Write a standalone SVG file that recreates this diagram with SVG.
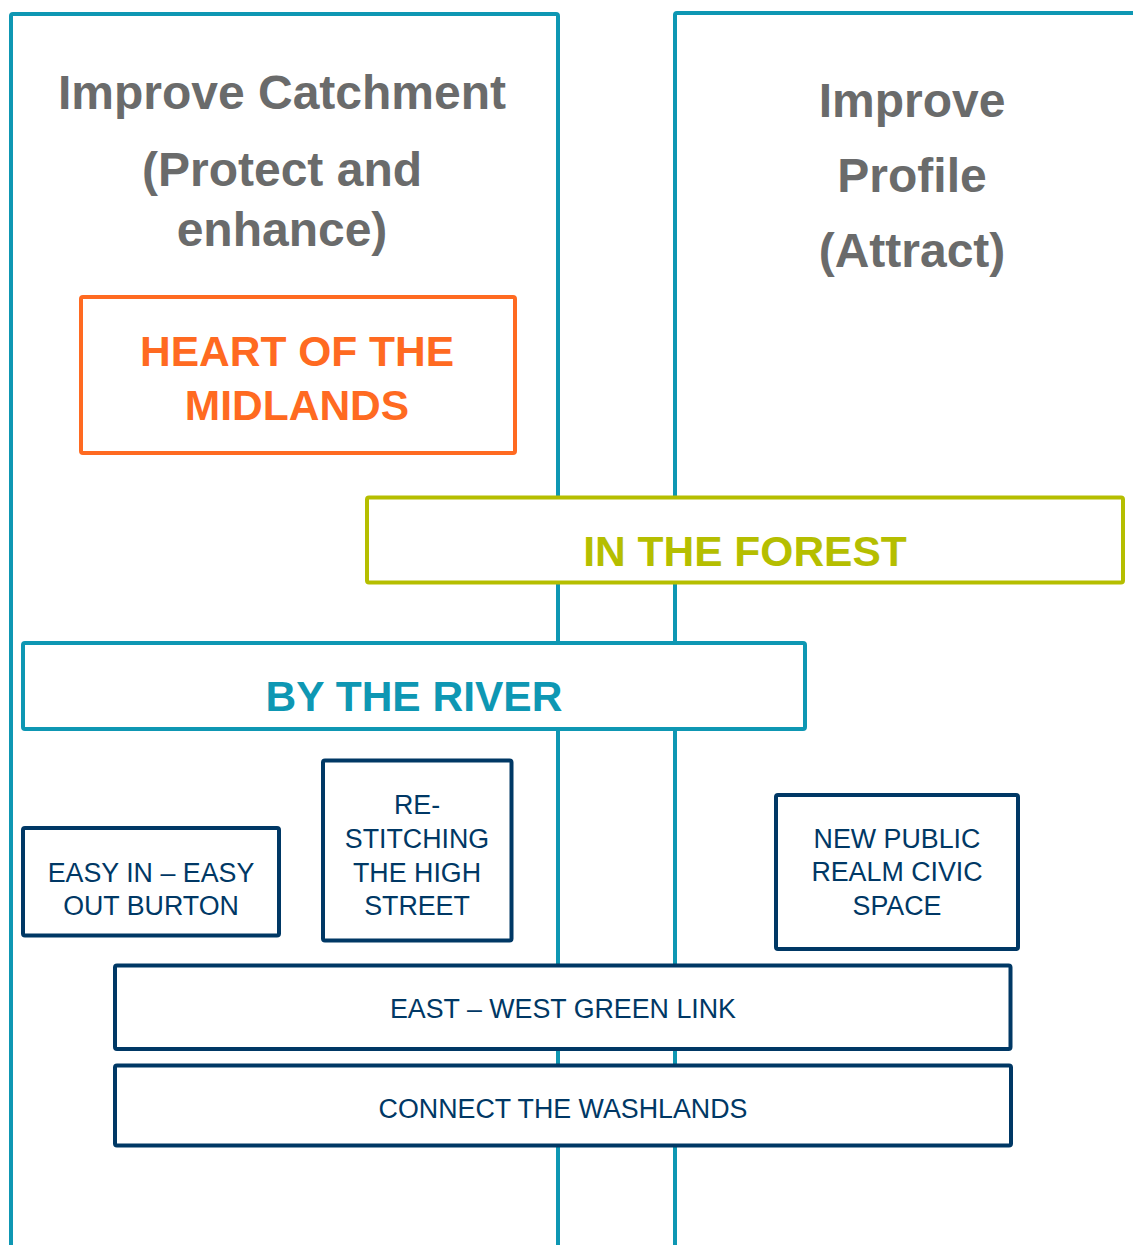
<svg xmlns="http://www.w3.org/2000/svg" width="1133" height="1245" viewBox="0 0 1133 1245">
<style>
.panel{fill:none;stroke:#0E97B3;stroke-width:4}
.box{fill:#fff;stroke-width:4}
.navy{stroke:#003865}
.head{font-family:"Liberation Sans",Arial,sans-serif;font-weight:bold;font-size:48px;fill:#6A6B6B;text-anchor:middle}
.big{font-family:"Liberation Sans",Arial,sans-serif;font-weight:bold;font-size:42.5px;text-anchor:middle}
.small{font-family:"Liberation Sans",Arial,sans-serif;font-size:26.8px;fill:#003865;text-anchor:middle}
</style>
<rect width="1133" height="1245" fill="#fff"/>
<g id="panel-catchment">
<rect class="panel" x="11" y="14" width="547" height="1300" rx="2"/>
<text class="head" x="282" y="109">Improve Catchment</text>
<text class="head" x="282" y="186">(Protect and</text>
<text class="head" x="282" y="246">enhance)</text>
</g>
<g id="panel-profile">
<rect class="panel" x="675" y="13" width="520" height="1300" rx="2"/>
<text class="head" x="912" y="117">Improve</text>
<text class="head" x="912" y="192">Profile</text>
<text class="head" x="912" y="267">(Attract)</text>
</g>
<g id="connectors"></g>
<g id="heart">
<rect class="box" x="81" y="297" width="434" height="156" rx="2" stroke="#FF6A21"/>
<text class="big" x="297" y="366" fill="#FF6A21">HEART OF THE</text>
<text class="big" x="297" y="420" fill="#FF6A21">MIDLANDS</text>
</g>
<g id="forest">
<rect class="box" x="367" y="497.5" width="756" height="85" rx="2" stroke="#B5BE00"/>
<text class="big" x="745" y="566" fill="#B5BE00">IN THE FOREST</text>
</g>
<g id="river">
<rect class="box" x="23" y="643" width="782" height="86" rx="2" stroke="#0E97B3"/>
<text class="big" x="414" y="711" fill="#0E97B3">BY THE RIVER</text>
</g>
<g id="easy">
<rect class="box navy" x="23" y="828" width="256" height="107.5" rx="2"/>
<text class="small" x="151" y="882">EASY IN – EASY</text>
<text class="small" x="151" y="915">OUT BURTON</text>
</g>
<g id="restitch">
<rect class="box navy" x="323" y="760.5" width="188.5" height="180" rx="2"/>
<text class="small" x="417" y="814">RE-</text>
<text class="small" x="417" y="848">STITCHING</text>
<text class="small" x="417" y="882">THE HIGH</text>
<text class="small" x="417" y="915">STREET</text>
</g>
<g id="publicrealm">
<rect class="box navy" x="776" y="795" width="242" height="154" rx="2"/>
<text class="small" x="897" y="848">NEW PUBLIC</text>
<text class="small" x="897" y="881">REALM CIVIC</text>
<text class="small" x="897" y="915">SPACE</text>
</g>
<g id="greenlink">
<rect class="box navy" x="115" y="965.5" width="895.5" height="83.5" rx="2"/>
<text class="small" x="563" y="1018">EAST – WEST GREEN LINK</text>
</g>
<g id="washlands">
<rect class="box navy" x="115" y="1065.5" width="896" height="80" rx="2"/>
<text class="small" x="563" y="1118">CONNECT THE WASHLANDS</text>
</g>
</svg>
